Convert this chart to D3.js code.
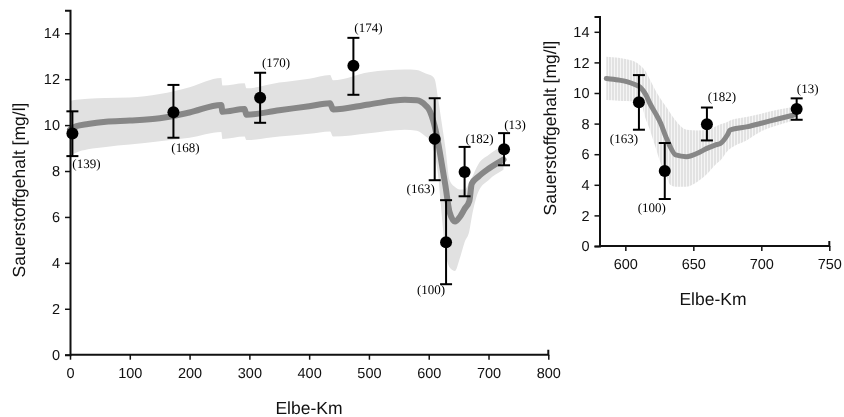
<!DOCTYPE html>
<html>
<head>
<meta charset="utf-8">
<script src="https://cdn.jsdelivr.net/npm/d3@7"></script>
<style>
  body { margin: 0; background: #fff; }
  svg { will-change: transform; }
  svg text { text-rendering: geometricPrecision; }
  .tick text { font-family: "Liberation Sans", Arial, sans-serif; font-size: 14.5px; fill: #111; }
  .title { font-family: "Liberation Sans", Arial, sans-serif; font-size: 17.5px; fill: #111; }
  .nlabel { font-family: "Liberation Serif", "Times New Roman", serif; font-size: 13px; fill: #000; }
</style>
</head>
<body>
<svg id="chart" width="844" height="417"></svg>
<script>
// model run along the whole river (left panel)
var riverKm   = [0, 10, 30, 60, 100, 150, 200, 253, 255, 292, 295, 350, 400, 435, 440, 500, 560, 580, 595, 600, 605, 610, 616, 620, 628, 635, 644, 652, 660, 668, 672, 683, 700, 725];
var riverMean = [9.8, 9.95, 10.05, 10.15, 10.2, 10.3, 10.55, 10.88, 10.58, 10.7, 10.45, 10.65, 10.82, 10.95, 10.68, 10.9, 11.1, 11.08, 10.85, 10.7, 10.4, 9.95, 9.2, 8.6, 7.35, 6.2, 5.8, 6.0, 6.35, 6.7, 7.45, 7.75, 8.1, 8.5];
var riverLow  = [8.65, 8.8, 8.95, 9.05, 9.15, 9.3, 9.45, 9.7, 9.4, 9.5, 9.35, 9.5, 9.62, 9.72, 9.5, 9.65, 9.8, 9.75, 9.5, 9.4, 9.2, 8.7, 7.75, 6.6, 4.5, 3.8, 3.65, 4.2, 4.9, 5.4, 6.0, 7.1, 7.6, 8.05];
var riverHigh = [11.05, 11.1, 11.15, 11.18, 11.2, 11.35, 11.65, 12.05, 11.72, 11.82, 11.6, 11.85, 12.02, 12.18, 11.95, 12.3, 12.42, 12.4, 12.25, 12.2, 12.15, 12.0, 11.1, 10.4, 9.0, 7.6, 7.3, 7.2, 7.2, 7.5, 7.7, 8.3, 8.7, 9.1];

// model run for the lower river (right panel)
var detailKm   = [586, 595, 601, 607, 611, 615, 618, 622, 626, 630, 633, 637, 645, 653, 660, 666, 670, 675, 677, 690, 700, 712, 724];
var detailMean = [10.95, 10.85, 10.74, 10.55, 10.37, 9.9, 9.33, 8.7, 8.02, 7.1, 6.49, 5.95, 5.84, 6.06, 6.38, 6.6, 6.71, 7.25, 7.58, 7.8, 8.02, 8.3, 8.56];
var detailLow  = [9.54, 9.5, 9.47, 9.45, 9.4, 8.3, 7.6, 6.5, 5.4, 4.6, 4.0, 3.88, 3.88, 4.2, 4.7, 5.3, 5.6, 6.2, 6.35, 6.95, 7.5, 7.9, 8.2];
var detailHigh = [12.37, 12.3, 12.2, 12.04, 11.8, 11.4, 10.9, 10.2, 9.6, 9.1, 8.7, 8.2, 7.6, 7.55, 7.6, 7.8, 7.95, 8.1, 8.2, 8.45, 8.65, 8.9, 9.1];

// measuring stations: mean, range and number of samples
var stationKm   = [4, 173, 318, 474, 610, 629, 660, 726];
var stationMean = [9.63, 10.56, 11.19, 12.59, 9.4, 4.9, 7.96, 8.95];
var stationLow  = [8.65, 9.45, 10.1, 11.32, 7.6, 3.07, 6.9, 8.25];
var stationHigh = [10.6, 11.75, 12.28, 13.8, 11.17, 6.73, 9.05, 9.65];
var stationN    = [139, 168, 170, 174, 163, 100, 182, 13];

var yTicks = [0, 2, 4, 6, 8, 10, 12, 14];
var xTicksLeft = [0, 100, 200, 300, 400, 500, 600, 700, 800];
var xTicksRight = [600, 650, 700, 750];

// label offsets (pixels) from each station point
var leftOffsets = [[14, 34], [12, 40], [16, -31], [15, -34], [-14, 54], [-15, 52], [15, -29], [11, -20]];
var rightOffsets = [[-15, 41], [-13, 41], [15, -23], [11, -16]];

var svg = d3.select("#chart");

// hatched fill for the right panel band
var defs = svg.append("defs");
var pat = defs.append("pattern")
    .attr("id", "hatch")
    .attr("patternUnits", "userSpaceOnUse")
    .attr("width", 3).attr("height", 10);
pat.append("rect").attr("width", 3).attr("height", 10).attr("fill", "#f5f5f5");
pat.append("rect").attr("width", 2).attr("height", 10).attr("fill", "#e2e2e2");

function zipModel(km, mean, lo, hi) {
    return km.map((k, i) => ({km: k, mean: mean[i], lo: lo[i], hi: hi[i]}));
}

function drawPanel(cfg) {
    var x = d3.scaleLinear().domain(cfg.xDomain).range(cfg.xRange);
    var y = d3.scaleLinear().domain([0, 15]).range(cfg.yRange);
    var g = svg.append("g");

    // uncertainty band
    var area = d3.area()
        .x(d => x(d.km))
        .y0(d => y(d.lo))
        .y1(d => y(d.hi))
        .curve(d3.curveMonotoneX);
    g.append("path")
        .datum(cfg.model)
        .attr("d", area)
        .attr("fill", cfg.bandFill);

    // model line
    var line = d3.line()
        .x(d => x(d.km))
        .y(d => y(d.mean))
        .curve(d3.curveMonotoneX);
    g.append("path")
        .datum(cfg.model)
        .attr("d", line)
        .attr("fill", "none")
        .attr("stroke", "#878787")
        .attr("stroke-width", cfg.lineWidth)
        .attr("stroke-linejoin", "round")
        .attr("stroke-linecap", "round");

    // axes
    var yAxis = g.append("g")
        .attr("transform", "translate(" + cfg.xRange[0] + ",0)")
        .call(d3.axisLeft(y).tickValues(yTicks).tickSize(5).tickPadding(5));
    var xAxis = g.append("g")
        .attr("transform", "translate(0," + cfg.yRange[0] + ")")
        .call(d3.axisBottom(x).tickValues(cfg.xTicks).tickSize(5).tickPadding(8));
    [yAxis, xAxis].forEach(a => {
        a.select(".domain").attr("stroke", "#111").attr("stroke-width", 2);
        a.selectAll(".tick line").attr("stroke", "#111").attr("stroke-width", 1.5);
    });
    xAxis.select(".domain").attr("d", "M" + cfg.xRange[0] + ",0H" + cfg.xRange[1] + "V-5");

    // stations
    var st = cfg.stations.map(i => ({
        km: stationKm[i], mean: stationMean[i], lo: stationLow[i], hi: stationHigh[i], n: stationN[i]
    }));
    var pts = g.selectAll(".station").data(st).enter().append("g").attr("class", "station");
    pts.append("line")
        .attr("x1", d => x(d.km)).attr("x2", d => x(d.km))
        .attr("y1", d => y(d.lo)).attr("y2", d => y(d.hi))
        .attr("stroke", "#000").attr("stroke-width", 2);
    pts.append("line")
        .attr("x1", d => x(d.km) - 6).attr("x2", d => x(d.km) + 6)
        .attr("y1", d => y(d.hi)).attr("y2", d => y(d.hi))
        .attr("stroke", "#000").attr("stroke-width", 2);
    pts.append("line")
        .attr("x1", d => x(d.km) - 6).attr("x2", d => x(d.km) + 6)
        .attr("y1", d => y(d.lo)).attr("y2", d => y(d.lo))
        .attr("stroke", "#000").attr("stroke-width", 2);
    pts.append("circle")
        .attr("cx", d => x(d.km)).attr("cy", d => y(d.mean))
        .attr("r", 6).attr("fill", "#000");
    pts.append("text")
        .attr("class", "nlabel")
        .attr("text-anchor", "middle")
        .attr("x", (d, i) => x(d.km) + cfg.offsets[i][0])
        .attr("y", (d, i) => y(d.mean) + cfg.offsets[i][1])
        .text(d => "(" + d.n + ")");

    // titles
    svg.append("text").attr("class", "title")
        .attr("text-anchor", "middle")
        .attr("x", cfg.xTitle[0]).attr("y", cfg.xTitle[1])
        .text("Elbe-Km");
    svg.append("text").attr("class", "title")
        .attr("text-anchor", "middle")
        .attr("transform", "translate(" + cfg.yTitle[0] + "," + cfg.yTitle[1] + ")rotate(-90)")
        .text("Sauerstoffgehalt [mg/l]");
}

drawPanel({
    model: zipModel(riverKm, riverMean, riverLow, riverHigh),
    xDomain: [0, 800], xRange: [70, 548.3],
    yRange: [354.7, 10.3],
    xTicks: xTicksLeft,
    stations: [0, 1, 2, 3, 4, 5, 6, 7],
    offsets: leftOffsets,
    bandFill: "#e1e1e1",
    lineWidth: 6,
    xTitle: [309, 414],
    yTitle: [25, 190]
});

drawPanel({
    model: zipModel(detailKm, detailMean, detailLow, detailHigh),
    xDomain: [581, 750], xRange: [599.5, 829.3],
    yRange: [246, 16.5],
    xTicks: xTicksRight,
    stations: [4, 5, 6, 7],
    offsets: rightOffsets,
    bandFill: "url(#hatch)",
    lineWidth: 5,
    xTitle: [713, 305],
    yTitle: [556, 128]
});
</script>
</body>
</html>
